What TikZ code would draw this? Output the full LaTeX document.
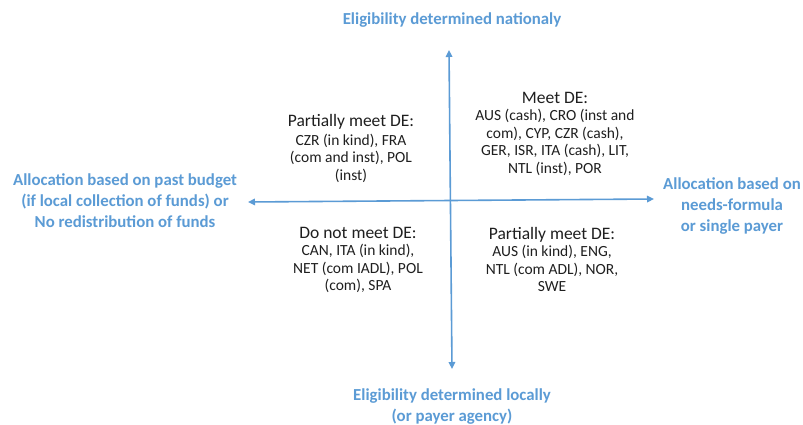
\documentclass[tikz,border=0pt]{standalone}
\usepackage{fontspec}
\setmainfont{Carlito}
\usetikzlibrary{arrows.meta}
\definecolor{axisblue}{RGB}{91,155,213}
\begin{document}
\begin{tikzpicture}[x=1pt,y=-1pt,
  axis/.style={draw=axisblue,line width=1.6pt,{Triangle[length=7pt,width=6.5pt]}-{Triangle[length=7pt,width=6.5pt]}},
  bluelabel/.style={text=axisblue,font=\fontsize{16.8}{21}\selectfont\bfseries,align=center,inner sep=0pt},
  quad/.style={align=center,inner sep=0pt,text=black!88,font=\fontsize{15.5}{17.5}\selectfont},
  headtext/.style={}]
\newcommand{\qhead}[1]{{\fontsize{17.5}{17.5}\selectfont #1}}
\useasboundingbox[fill=white] (0,0) rectangle (803,425);
\coordinate (top) at (449,50);
\coordinate (bot) at (452,369);
\coordinate (lft) at (248,202);
\coordinate (rgt) at (654,199);
\draw[axis] (top) -- (bot);
\draw[axis] (lft) -- (rgt);
\node[bluelabel] (tl) at (452,20) {Eligibility determined nationaly};
\node[bluelabel] (bl) at (452,407) {Eligibility determined locally\\(or payer agency)};
\node[bluelabel] (ll) at (125,201) {Allocation based on past budget\\(if local collection of funds) or\\No redistribution of funds};
\node[bluelabel] (rl) at (732,206) {Allocation based on\\needs-formula\\or single payer};
\node[quad,anchor=north] (q1) at (351,114) {\qhead{Partially meet DE:}\\[1.5pt]
  CZR (in kind), FRA\\(com and inst), POL\\(inst)};
\node[quad,anchor=north] (q2) at (555,92) {\qhead{Meet DE:}\\
  AUS (cash), CRO (inst and\\com), CYP, CZR (cash),\\GER, ISR, ITA (cash), LIT,\\NTL (inst), POR};
\node[quad,anchor=north] (q3) at (358,227) {\qhead{Do not meet DE:}\\
  CAN, ITA (in kind),\\NET (com IADL), POL\\(com), SPA};
\node[quad,anchor=north] (q4) at (552,227) {\qhead{Partially meet DE:}\\
  AUS (in kind), ENG,\\NTL (com ADL), NOR,\\SWE};
\end{tikzpicture}
\end{document}
